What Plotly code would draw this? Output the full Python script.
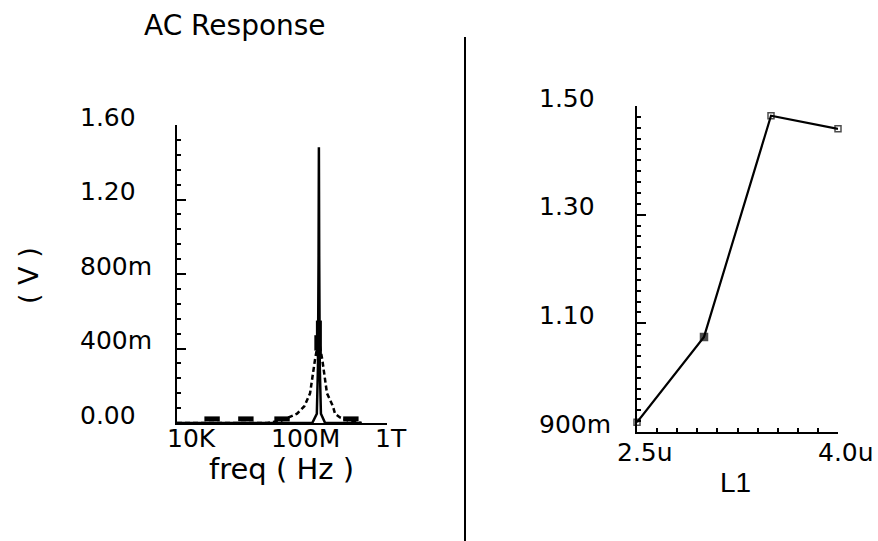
import math
import plotly.graph_objects as go

# ---------------- data ----------------
# Left: AC response (freq in Hz, magnitude in V)
spike_freq = [1e4, 1.6e9, 2.4e9, 2.65e9, 2.8e9, 2.88e9, 2.96e9, 3.12e9, 3.45e9, 5.0e9, 1.26e11]
spike_volt = [0.0, 0.0, 0.05, 0.30, 0.90, 1.48, 0.90, 0.30, 0.05, 0.0, 0.0]

damped_freq = [1e4, 3.0e7, 1.0e8, 1.86e8, 4.17e8, 7.94e8, 1.32e9, 2.04e9, 2.82e9,
               3.89e9, 5.89e9, 1.0e10, 1.2e10, 1.86e10, 3.98e10, 1.26e11]
damped_volt = [0.0, 0.0, 0.012, 0.027, 0.05, 0.09, 0.16, 0.34, 0.45,
               0.34, 0.16, 0.09, 0.05, 0.03, 0.012, 0.0]

marker_freq = [2.24e5, 4.47e6, 1.1e8, 2.4e9, 4.9e10]
marker_volt = [0.022, 0.022, 0.022, 0.43, 0.022]
marker_shape = ["line-ew", "line-ew", "line-ew", "line-ns", "line-ew"]

block_freq = [2.88e9, 2.88e9]
block_volt = [0.37, 0.55]

left_xtick_vals = [1e4, 1e8, 1e12]
left_xtick_text = ["10K", "100M", "1T"]
left_ytick_vals = [1.6, 1.2, 0.8, 0.4, 0.0]
left_ytick_text = ["1.60", "1.20", "800m", "400m", "0.00"]

# Right: peak vs L1
l1_vals = [2.5, 3.0, 3.5, 4.0]
peak_vals = [0.918, 1.075, 1.482, 1.458]
right_xtick_vals = [2.5, 4.0]
right_xtick_text = ["2.5u", "4.0u"]
right_ytick_vals = [1.5, 1.3, 1.1, 0.9]
right_ytick_text = ["1.50", "1.30", "1.10", "900m"]

# ---------------- figure ----------------
W, H = 878, 541
FONT = "DejaVu Sans"
fig = go.Figure()

fig.add_trace(go.Scatter(x=damped_freq, y=damped_volt, mode="lines",
                         line=dict(color="black", width=2.5, dash="5px,3px"),
                         xaxis="x", yaxis="y", showlegend=False))
fig.add_trace(go.Scatter(x=spike_freq, y=spike_volt, mode="lines",
                         line=dict(color="black", width=2.5),
                         xaxis="x", yaxis="y", showlegend=False))
fig.add_trace(go.Scatter(x=block_freq, y=block_volt, mode="lines",
                         line=dict(color="black", width=6),
                         xaxis="x", yaxis="y", showlegend=False))
fig.add_trace(go.Scatter(x=marker_freq, y=marker_volt, mode="markers",
                         marker=dict(symbol=marker_shape, size=11, color="black",
                                     line=dict(color="black", width=5)),
                         cliponaxis=False, xaxis="x", yaxis="y", showlegend=False))

fig.add_trace(go.Scatter(x=l1_vals, y=peak_vals, mode="lines+markers",
                         line=dict(color="black", width=2.2),
                         marker=dict(symbol=["square-open", "square", "square-open", "square-open"],
                                     size=[6, 7, 6, 6], color="black",
                                     line=dict(color="black", width=1.5)),
                         cliponaxis=False, xaxis="x2", yaxis="y2", showlegend=False))


def px_x(p):
    return p / W


def px_y(p):
    return 1 - p / H


axis_common = dict(showgrid=False, zeroline=False, showline=True, linecolor="black",
                   showticklabels=False, tickcolor="black")

fig.update_layout(
    width=W, height=H, margin=dict(l=0, r=0, t=0, b=0),
    paper_bgcolor="white", plot_bgcolor="white",
    xaxis=dict(type="log", range=[4, 12.08], domain=[px_x(177), px_x(387)],
               linewidth=2, ticks="", anchor="y", **axis_common),
    yaxis=dict(range=[0, 1.6], domain=[px_y(423), px_y(125)], linewidth=2,
               ticks="inside", tick0=0, dtick=0.4, ticklen=9, tickwidth=2,
               minor=dict(ticks="inside", dtick=0.08, ticklen=4, tickcolor="black", tickwidth=2),
               anchor="x", **axis_common),
    xaxis2=dict(range=[2.5, 4.0], domain=[px_x(637), px_x(838)], linewidth=2,
                ticks="inside", tick0=2.5, dtick=0.15, ticklen=4, tickwidth=1.5,
                anchor="y2", **axis_common),
    yaxis2=dict(range=[0.9, 1.5], domain=[px_y(432), px_y(106)], linewidth=2,
                ticks="inside", tick0=0.9, dtick=0.2, ticklen=9, tickwidth=2,
                minor=dict(ticks="inside", dtick=0.02, ticklen=4, tickcolor="black", tickwidth=1.5),
                anchor="x2", **axis_common),
    shapes=[dict(type="line", xref="paper", yref="paper",
                 x0=px_x(465), x1=px_x(465), y0=px_y(37), y1=0,
                 line=dict(color="black", width=2))],
)

ann = []
tf = dict(family=FONT, size=25, color="black")
for v, t in zip(left_xtick_vals, left_xtick_text):
    ann.append(dict(x=math.log10(v), xref="x", y=px_y(439), yref="paper", text=t,
                    showarrow=False, xanchor="left", yanchor="middle", xshift=-12, font=tf))
for v, t in zip(left_ytick_vals, left_ytick_text):
    ann.append(dict(x=px_x(78), xref="paper", y=v, yref="y", text=t,
                    showarrow=False, xanchor="left", yanchor="middle", yshift=8, font=tf))
for v, t in zip(right_xtick_vals, right_xtick_text):
    ann.append(dict(x=v, xref="x2", y=px_y(452), yref="paper", text=t,
                    showarrow=False, xanchor="left", yanchor="middle", xshift=-22, font=tf))
for v, t in zip(right_ytick_vals, right_ytick_text):
    ann.append(dict(x=px_x(537), xref="paper", y=v, yref="y2", text=t,
                    showarrow=False, xanchor="left", yanchor="middle", yshift=8, font=tf))

ann.append(dict(x=px_x(235), y=px_y(25), xref="paper", yref="paper", text="AC Response",
                showarrow=False, xanchor="center", yanchor="middle",
                font=dict(family=FONT, size=28, color="black")))
ann.append(dict(x=px_x(281), y=px_y(469), xref="paper", yref="paper", text="freq ( Hz )",
                showarrow=False, xanchor="center", yanchor="middle",
                font=dict(family=FONT, size=29, color="black")))
ann.append(dict(x=px_x(28), y=px_y(276), xref="paper", yref="paper", text="( V )",
                showarrow=False, xanchor="center", yanchor="middle", textangle=-90,
                font=dict(family=FONT, size=27, color="black")))
ann.append(dict(x=px_x(735), y=px_y(482), xref="paper", yref="paper", text="L1",
                showarrow=False, xanchor="center", yanchor="middle",
                font=dict(family="Liberation Sans", size=28, color="black")))
fig.update_layout(annotations=ann)

fig.write_html("out.html")
